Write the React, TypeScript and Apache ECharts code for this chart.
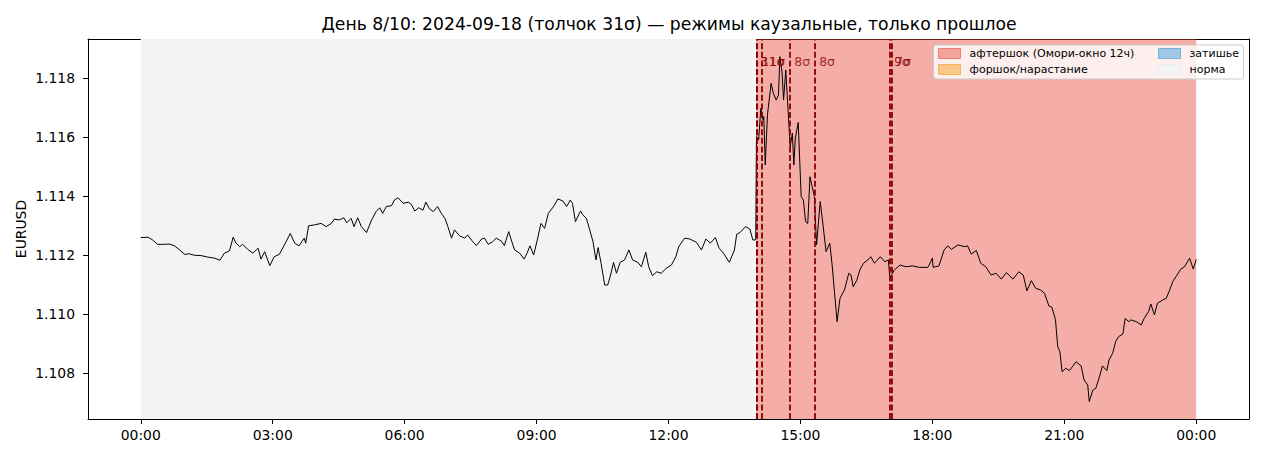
import React, { useEffect, useRef } from "react";
import * as echarts from "echarts";

const TITLE = "День 8/10: 2024-09-18 (толчок 31σ) — режимы каузальные, только прошлое";
const Y_NAME = "EURUSD";
const AFTER = "афтершок (Омори-окно 12ч)";
const FORE = "форшок/нарастание";
const CALM = "затишье";
const NORM = "норма";

// [minute of day, EURUSD]
const priceNight: [number, number][] = [
  [0, 1.11259], [10, 1.1126], [16, 1.11251], [23, 1.11236], [32, 1.11236], [39, 1.11237],
  [46, 1.11231], [53, 1.11217], [60, 1.11202], [66, 1.11204], [73, 1.11199], [82, 1.11198],
  [91, 1.11193], [101, 1.11189], [108, 1.11182], [114, 1.11206], [121, 1.11214], [126, 1.1126],
  [130, 1.1124], [135, 1.11228], [139, 1.11236], [146, 1.11219], [153, 1.11206], [160, 1.11223],
  [164, 1.11186], [169, 1.11211], [176, 1.11164], [182, 1.11194], [189, 1.11202], [196, 1.11234],
  [204, 1.11273], [210, 1.1124], [216, 1.11231], [223, 1.11257], [225, 1.1124], [229, 1.11299],
  [237, 1.11302], [246, 1.11307], [253, 1.11296], [260, 1.11307], [264, 1.11321], [271, 1.11319],
  [277, 1.11326], [281, 1.11309], [287, 1.11324], [291, 1.11296], [296, 1.11326], [301, 1.11296],
  [308, 1.11276], [315, 1.11319], [321, 1.11347], [326, 1.1136], [330, 1.11341], [335, 1.11364],
  [342, 1.11367], [346, 1.11386], [351, 1.11394], [358, 1.11375],
];
const priceMorning: [number, number][] = [
  [365, 1.11379], [369, 1.11372], [374, 1.11349], [379, 1.1136], [385, 1.11352], [389, 1.11379],
  [394, 1.11356], [399, 1.11347], [405, 1.11364], [410, 1.11341], [415, 1.11324], [419, 1.11296],
  [424, 1.11257], [428, 1.11285], [435, 1.11265], [442, 1.11257], [446, 1.11268], [453, 1.11245],
  [458, 1.11232], [465, 1.11254], [469, 1.11257], [474, 1.11236], [480, 1.11245], [485, 1.11257],
  [492, 1.11247], [496, 1.11232], [502, 1.11279], [506, 1.11247], [510, 1.11217], [517, 1.11206],
  [523, 1.11186], [527, 1.11206], [531, 1.11231], [536, 1.112], [541, 1.11251], [546, 1.11307],
  [551, 1.1129], [556, 1.11341], [564, 1.11367], [569, 1.1139], [576, 1.11383], [581, 1.11364],
  [586, 1.11386], [589, 1.11375], [593, 1.11313], [600, 1.11349], [603, 1.11336], [608, 1.11324],
  [612, 1.1129], [617, 1.11245], [621, 1.11183], [624, 1.11225], [628, 1.11172], [633, 1.11098],
  [637, 1.11098], [641, 1.11132], [645, 1.11175], [649, 1.11138], [654, 1.11175], [660, 1.11183],
  [666, 1.11217], [671, 1.11183], [678, 1.11175], [683, 1.1116], [689, 1.11209], [693, 1.1116],
  [698, 1.1113], [704, 1.11143], [710, 1.11138], [717, 1.11155],
];
const priceMidday: [number, number][] = [
  [724, 1.11166], [730, 1.11194], [734, 1.11228], [742, 1.11257], [749, 1.11254], [758, 1.11243],
  [765, 1.11217], [771, 1.11254], [777, 1.1124], [784, 1.11259], [789, 1.11223], [795, 1.11206],
  [803, 1.11175], [810, 1.11217], [813, 1.1127], [818, 1.11277], [825, 1.11296], [831, 1.11288],
  [835, 1.11251], [839, 1.11251],
  [840, 1.11601], [843, 1.1159], [846, 1.11697], [849, 1.11658], [850, 1.11669], [852, 1.11505],
  [855, 1.11675], [860, 1.11782], [863, 1.11748], [867, 1.11725], [870, 1.11742], [872, 1.11872],
  [875, 1.11816], [877, 1.11725], [880, 1.11827], [883, 1.11697], [886, 1.11567], [889, 1.11613],
  [891, 1.11505], [893, 1.11596], [897, 1.11649], [901, 1.11398], [904, 1.11386], [907, 1.11313],
  [910, 1.11307], [913, 1.11465], [916, 1.11432], [919, 1.11398], [922, 1.11234], [927, 1.11381],
  [930, 1.11319], [935, 1.11211], [940, 1.1124], [943, 1.11172], [950, 1.10974], [954, 1.11053],
  [960, 1.11081], [966, 1.11138], [969, 1.11132], [972, 1.11092], [977, 1.11115], [981, 1.11149],
  [986, 1.11172], [992, 1.11183], [996, 1.11194], [1001, 1.11172], [1009, 1.11194], [1015, 1.11177],
  [1020, 1.11183], [1022, 1.11121], [1028, 1.11149], [1036, 1.11166], [1044, 1.1116], [1053, 1.11163],
  [1062, 1.11158], [1074, 1.11158], [1080, 1.11189], [1081, 1.11158],
];
const priceEvening: [number, number][] = [
  [1089, 1.11163], [1096, 1.11217], [1101, 1.11231], [1106, 1.11219], [1115, 1.11234], [1124, 1.11228],
  [1128, 1.11231], [1133, 1.11203], [1140, 1.11215], [1146, 1.11172], [1153, 1.1116], [1160, 1.11132],
  [1167, 1.11138], [1174, 1.11118], [1181, 1.1114], [1190, 1.11118], [1198, 1.11143], [1204, 1.11132],
  [1209, 1.11078], [1215, 1.11113], [1221, 1.11087], [1228, 1.11081], [1233, 1.1107], [1239, 1.11027],
  [1243, 1.11023], [1248, 1.1098], [1251, 1.10889], [1254, 1.10872], [1257, 1.10804], [1262, 1.10816],
  [1267, 1.10808], [1271, 1.10821], [1276, 1.10838], [1283, 1.10824], [1287, 1.10776], [1292, 1.10759],
  [1294, 1.10703], [1299, 1.10742], [1303, 1.10748], [1308, 1.10787], [1312, 1.10824], [1318, 1.10808],
  [1321, 1.10844], [1326, 1.10867], [1330, 1.10906], [1334, 1.10923], [1340, 1.10932], [1343, 1.10985],
  [1348, 1.10974], [1351, 1.1098], [1358, 1.10974], [1365, 1.10963], [1369, 1.10985], [1375, 1.11008],
  [1378, 1.11034], [1383, 1.10997], [1387, 1.11036], [1394, 1.11047], [1399, 1.11053], [1403, 1.11076],
  [1408, 1.1111], [1413, 1.11129], [1419, 1.11152], [1424, 1.1116], [1431, 1.11189], [1436, 1.11152],
  [1440, 1.11185],
];

const xTicks = [0, 180, 360, 540, 720, 900, 1080, 1260, 1440];
const yTicks = [1.108, 1.11, 1.112, 1.114, 1.116, 1.118];
// shock marker times (minutes) and their labels (the 14:07 marker's label is hidden under the 14:00 pair)
const shockMinutes = [840, 841, 847, 886, 920, 1022, 1024];
const shockLabels = ["31σ", "11σ", "", "8σ", "8σ", "9σ", "7σ"];
const normalSpan = [0, 840];
const aftershockSpan = [840, 1440];

const X_MIN = -72;
const X_MAX = 1512;
const Y_MIN = 1.10644;
const Y_MAX = 1.11932;

const FONT = "DejaVu Sans";

const fmtTime = (v: number) => {
  const m = ((Math.round(v) % 1440) + 1440) % 1440;
  const h = Math.floor(m / 60);
  const mm = m % 60;
  return `${String(h).padStart(2, "0")}:${String(mm).padStart(2, "0")}`;
};

const C_AFTER = "rgba(231,76,60,0.45)";
const C_FORE = "rgba(243,156,18,0.45)";
const C_CALM = "rgba(52,152,219,0.45)";
const C_NORM = "#f3f3f3";

export default function App() {
  const ref = useRef<HTMLDivElement>(null);
  useEffect(() => {
    if (!ref.current) return;
    const chart = echarts.init(ref.current, null, { renderer: "svg" });
    const price = [...priceNight, ...priceMorning, ...priceMidday, ...priceEvening];
    const labelLevel = Y_MAX - (Y_MAX - Y_MIN) * 0.06;
    const labeled = shockMinutes
      .map((m, i) => ({ m, t: shockLabels[i] }))
      .filter((d) => d.t !== "");
    const legendText = { fontSize: 11, color: "#000", fontFamily: FONT, lineHeight: 13, padding: [0, 0, 0, 4] };
    const legendBase = {
      orient: "vertical",
      top: 47,
      padding: 0,
      itemWidth: 22,
      itemHeight: 10,
      itemGap: 3,
      selectedMode: false,
      z: 20,
      textStyle: legendText,
    };
    const option: any = {
      animation: false,
      backgroundColor: "#fff",
      textStyle: { fontFamily: FONT },
      title: {
        text: TITLE,
        left: 664,
        top: 10,
        textAlign: "center",
        textStyle: { fontSize: 17.2, fontWeight: "normal", color: "#000", fontFamily: FONT },
      },
      grid: { left: 88, top: 39, width: 1161, height: 380, show: false },
      xAxis: [
        {
          type: "value",
          min: X_MIN,
          max: X_MAX,
          position: "bottom",
          axisLine: { show: true, onZero: false, lineStyle: { color: "#000", width: 1 } },
          axisTick: { show: true, customValues: xTicks, length: 5, lineStyle: { color: "#000" } },
          axisLabel: { customValues: xTicks, formatter: fmtTime, color: "#000", fontSize: 13.9, margin: 9, fontFamily: FONT },
          splitLine: { show: false },
        },
        {
          type: "value",
          min: X_MIN,
          max: X_MAX,
          position: "top",
          axisLine: { show: true, onZero: false, lineStyle: { color: "#000", width: 1 } },
          axisTick: { show: false },
          axisLabel: { show: false },
          splitLine: { show: false },
        },
      ],
      yAxis: [
        {
          type: "value",
          min: Y_MIN,
          max: Y_MAX,
          name: Y_NAME,
          nameLocation: "middle",
          nameGap: 60,
          nameMoveOverlap: false,
          nameTextStyle: { fontSize: 13.9, color: "#000", fontFamily: FONT },
          axisLine: { show: true, onZero: false, lineStyle: { color: "#000", width: 1 } },
          axisTick: { show: true, customValues: yTicks, length: 5, lineStyle: { color: "#000" } },
          axisLabel: { customValues: yTicks, formatter: (v: number) => v.toFixed(3), color: "#000", fontSize: 13.9, margin: 13, fontFamily: FONT },
          splitLine: { show: false },
        },
        {
          type: "value",
          min: Y_MIN,
          max: Y_MAX,
          position: "right",
          axisLine: { show: true, onZero: false, lineStyle: { color: "#000", width: 1 } },
          axisTick: { show: false },
          axisLabel: { show: false },
          splitLine: { show: false },
        },
      ],
      legend: [
        {
          ...legendBase,
          left: 938,
          data: [
            { name: AFTER, icon: "rect", itemStyle: { color: C_AFTER, borderColor: "rgba(231,76,60,0.6)", borderWidth: 1 } },
            { name: FORE, icon: "rect", itemStyle: { color: C_FORE, borderColor: "rgba(243,156,18,0.6)", borderWidth: 1 } },
          ],
        },
        {
          ...legendBase,
          left: 1158,
          data: [
            { name: CALM, icon: "rect", itemStyle: { color: C_CALM, borderColor: "rgba(52,152,219,0.6)", borderWidth: 1 } },
            { name: NORM, icon: "rect", itemStyle: { color: C_NORM, borderColor: "#ececec", borderWidth: 1 } },
          ],
        },
      ],
      graphic: [
        {
          type: "rect",
          z: 15,
          shape: { x: 933.5, y: 45, width: 310, height: 34, r: 3 },
          style: { fill: "rgba(255,255,255,0.8)", stroke: "#cccccc", lineWidth: 1 },
        },
      ],
      series: [
        {
          name: NORM,
          type: "line",
          data: [],
          color: C_NORM,
          z: 1,
          markArea: {
            silent: true,
            itemStyle: { color: C_NORM },
            data: [[{ xAxis: normalSpan[0] }, { xAxis: normalSpan[1] }]],
          },
        },
        {
          name: AFTER,
          type: "line",
          data: [],
          color: C_AFTER,
          z: 1,
          markArea: {
            silent: true,
            itemStyle: { color: C_AFTER },
            data: [[{ xAxis: aftershockSpan[0] }, { xAxis: aftershockSpan[1] }]],
          },
        },
        { name: FORE, type: "line", data: [], color: C_FORE },
        { name: CALM, type: "line", data: [], color: C_CALM },
        {
          name: Y_NAME,
          type: "line",
          data: price,
          showSymbol: false,
          symbol: "none",
          z: 3,
          lineStyle: { color: "#000", width: 1 },
          itemStyle: { color: "#000" },
          markLine: {
            silent: true,
            symbol: ["none", "none"],
            label: { show: false },
            lineStyle: { color: "#8b0000", type: [6, 2.6], width: 1.8 },
            data: shockMinutes.map((m) => ({ xAxis: m })),
          },
        },
        {
          name: "shocks",
          type: "scatter",
          symbol: "circle",
          symbolSize: 0.1,
          itemStyle: { color: "transparent" },
          z: 6,
          data: labeled.map((d) => [d.m, labelLevel]),
          label: {
            show: true,
            position: "right",
            distance: 4,
            color: "#8b0000",
            fontSize: 12.5,
            fontFamily: FONT,
            formatter: (p: any) => labeled[p.dataIndex].t,
          },
        },
      ],
    };
    chart.setOption(option);
    return () => chart.dispose();
  }, []);
  return <div ref={ref} style={{ position: "fixed", left: 0, top: 0, width: 1265, height: 460 }} />;
}
